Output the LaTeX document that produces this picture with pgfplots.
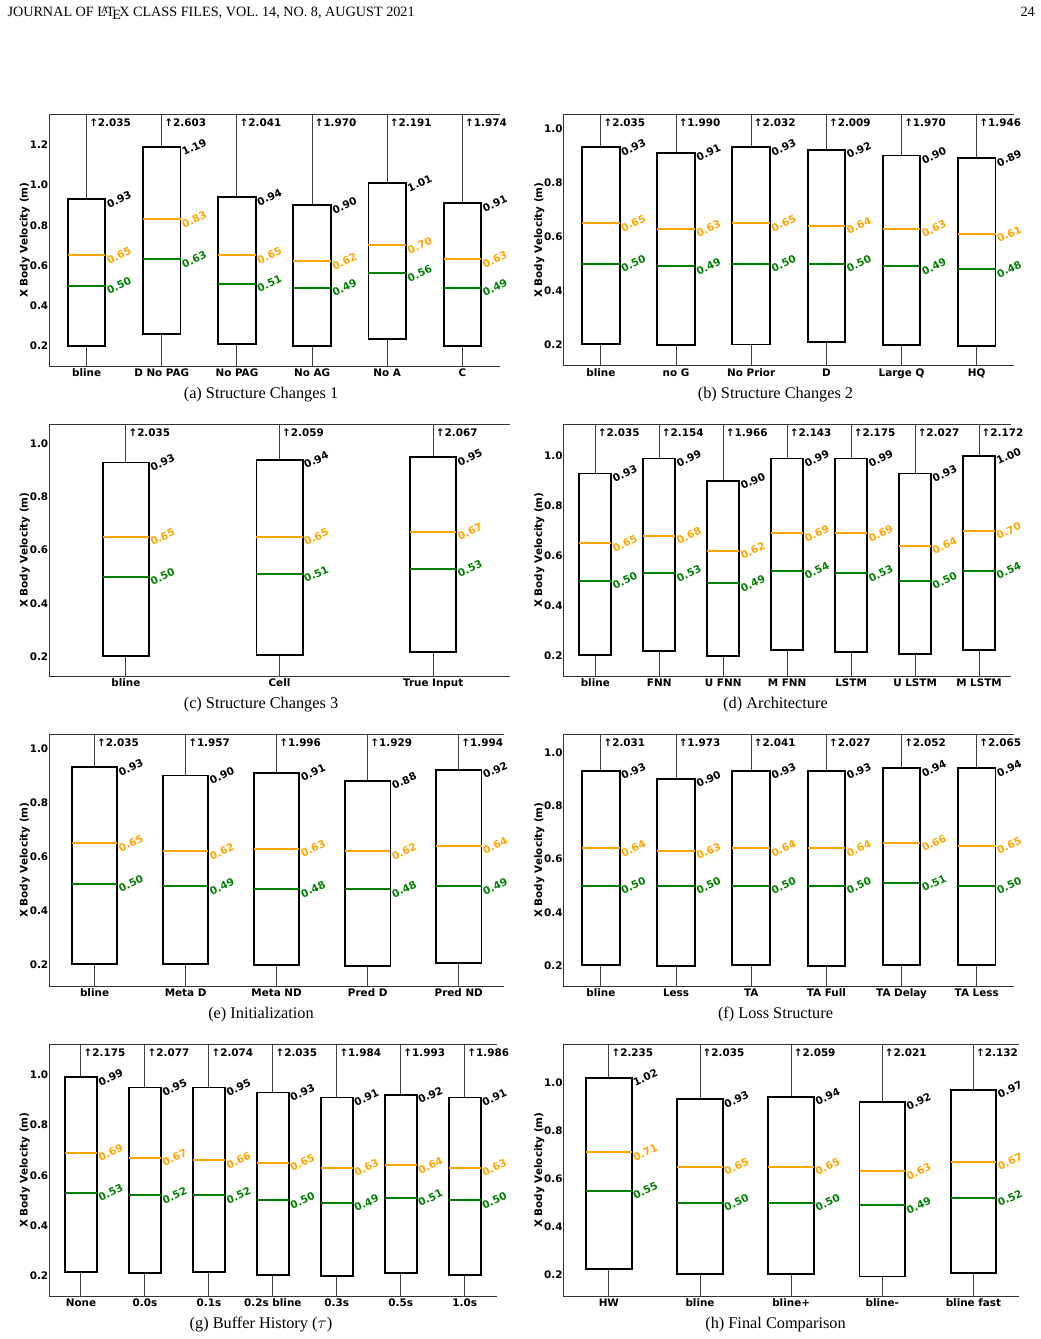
\documentclass[border=0pt]{standalone}
\usepackage{fontspec}
\setmainfont{Liberation Serif}
\newfontfamily\dvs{DejaVu Sans}
\usepackage{pgfplots}
\pgfplotsset{compat=1.18}
\usepgfplotslibrary{statistics}

\definecolor{medc}{HTML}{FFA500}
\definecolor{meanc}{HTML}{008000}

\newcommand\tkf{\dvs\bfseries\fontsize{10.4pt}{12pt}\selectfont}
\newcommand\hdrf{\fontsize{14.2pt}{17pt}\selectfont}
\newcommand\capf{\fontsize{16.3pt}{19pt}\selectfont}

\tikzset{
  vlab/.style={font=\tkf, rotate=25, anchor=center, inner sep=0pt},
  toplab/.style={font=\tkf, anchor=base west, inner sep=0pt, xshift=2.5pt, yshift=-12.4pt},
}

\pgfplotsset{
  boxplot/every median/.style={draw=medc, line width=2pt},
  boxplot/every whisker/.style={draw=black!75, line width=1pt},
  pane/.style={
    scale only axis, anchor=north west, height=251.7pt,
    axis x line*=box, axis y line*=left,
    axis line style={-, draw=black!80, line width=1pt},
    clip mode=individual,
    major tick length=0pt, tick style={draw=none},
    ytick={0.2,0.4,0.6,0.8,1.0,1.2},
    /pgf/number format/assume math mode=true,
    yticklabel style={font=\tkf, inner sep=0.6pt,
      /pgf/number format/fixed, /pgf/number format/fixed zerofill,
      /pgf/number format/precision=1},
    xticklabel style={font=\tkf, inner sep=0pt, yshift=-2.3pt},
    ylabel={X Body Velocity (m)},
    ylabel style={font=\tkf, inner sep=0pt, at={(ticklabel cs:0.5,-1pt)}},
  },
}

% one box: position, lower edge, median, mean, upper edge, maximum
\newcommand\bx[6]{%
  \addplot[black, line width=1.9pt, boxplot prepared={draw direction=y,
      draw position=#1, box extend=\bext, whisker extend=0,
      lower whisker=0, lower quartile=#2, median=#3,
      upper quartile=#5, upper whisker=#6}] coordinates {};
  \addplot[only marks, mark=-, mark size=\ms,
      mark options={draw=meanc, line width=2pt}] coordinates {(#1,#4)};
  \node[vlab, text=black] at (axis cs:{#1+\lx},#5) {#5};
  \node[vlab, text=medc] at (axis cs:{#1+\lx},#3) {#3};
  \node[vlab, text=meanc] at (axis cs:{#1+\lx},#4) {#4};
  \node[toplab] at (axis cs:#1,\ytop) {↑#6};
}

\begin{document}
\begin{tikzpicture}
\path[use as bounding box] (0pt,0pt) rectangle (1041pt,-1339pt);

\node[anchor=base west, font=\hdrf, inner sep=0pt] at (7.3pt,-16.7pt)
  {JOURNAL OF \LaTeX\ CLASS FILES, VOL. 14, NO. 8, AUGUST 2021};
\node[anchor=base east, font=\hdrf, inner sep=0pt] at (1035pt,-16.7pt) {24};

% (a)
\def\bext{0.5}\def\lx{0.432}\def\ms{18.79pt}\def\ytop{1.353}
\begin{axis}[pane, at={(49pt,-114.3pt)}, width=451pt,
  xmin=0.5, xmax=6.5, ymin=0.099, ymax=1.353, xtick={1,...,6},
  xticklabels={bline, D No PAG, No PAG, No AG, No A, C}]
\bx{1}{0.200}{0.65}{0.50}{0.93}{2.035}
\bx{2}{0.260}{0.83}{0.63}{1.19}{2.603}
\bx{3}{0.207}{0.65}{0.51}{0.94}{2.041}
\bx{4}{0.198}{0.62}{0.49}{0.90}{1.970}
\bx{5}{0.232}{0.70}{0.56}{1.01}{2.191}
\bx{6}{0.198}{0.63}{0.49}{0.91}{1.974}
\end{axis}
\node[anchor=base, font=\capf] at (261pt,-398.3pt) {(a) Structure Changes 1};

% (b)
\def\bext{0.5}\def\lx{0.432}\def\ms{18.79pt}\def\ytop{1.052}
\begin{axis}[pane, at={(563.3pt,-114.3pt)}, width=451pt,
  xmin=0.5, xmax=6.5, ymin=0.1225, ymax=1.052, xtick={1,...,6},
  xticklabels={bline, no G, No Prior, D, Large Q, HQ}]
\bx{1}{0.204}{0.65}{0.50}{0.93}{2.035}
\bx{2}{0.200}{0.63}{0.49}{0.91}{1.990}
\bx{3}{0.202}{0.65}{0.50}{0.93}{2.032}
\bx{4}{0.210}{0.64}{0.50}{0.92}{2.009}
\bx{5}{0.199}{0.63}{0.49}{0.90}{1.970}
\bx{6}{0.196}{0.61}{0.48}{0.89}{1.946}
\end{axis}
\node[anchor=base, font=\capf] at (775.5pt,-398.3pt) {(b) Structure Changes 2};

% (c)
\def\bext{0.3}\def\lx{0.239}\def\ms{23.05pt}\def\ytop{1.074}
\begin{axis}[pane, at={(49pt,-424.3pt)}, width=461pt,
  xmin=0.5, xmax=3.5, ymin=0.126, ymax=1.074, xtick={1,2,3},
  xticklabels={bline, Cell, True Input}]
\bx{1}{0.200}{0.65}{0.50}{0.93}{2.035}
\bx{2}{0.204}{0.65}{0.51}{0.94}{2.059}
\bx{3}{0.215}{0.67}{0.53}{0.95}{2.067}
\end{axis}
\node[anchor=base, font=\capf] at (261pt,-708.3pt) {(c) Structure Changes 3};

% (d)
\def\bext{0.5}\def\lx{0.464}\def\ms{15.99pt}\def\ytop{1.127}
\begin{axis}[pane, at={(563.3pt,-424.3pt)}, width=447.7pt,
  xmin=0.5, xmax=7.5, ymin=0.1185, ymax=1.127, xtick={1,...,7},
  xticklabels={bline, FNN, U FNN, M FNN, LSTM, U LSTM, M LSTM}]
\bx{1}{0.203}{0.65}{0.50}{0.93}{2.035}
\bx{2}{0.219}{0.68}{0.53}{0.99}{2.154}
\bx{3}{0.199}{0.62}{0.49}{0.90}{1.966}
\bx{4}{0.221}{0.69}{0.54}{0.99}{2.143}
\bx{5}{0.216}{0.69}{0.53}{0.99}{2.175}
\bx{6}{0.207}{0.64}{0.50}{0.93}{2.027}
\bx{7}{0.223}{0.70}{0.54}{1.00}{2.172}
\end{axis}
\node[anchor=base, font=\capf] at (775.5pt,-708.3pt) {(d) Architecture};

% (e)
\def\bext{0.5}\def\lx{0.400}\def\ms{22.77pt}\def\ytop{1.052}
\begin{axis}[pane, at={(49pt,-734.3pt)}, width=455.3pt,
  xmin=0.5, xmax=5.5, ymin=0.1225, ymax=1.052, xtick={1,...,5},
  xticklabels={bline, Meta D, Meta ND, Pred D, Pred ND}]
\bx{1}{0.204}{0.65}{0.50}{0.93}{2.035}
\bx{2}{0.204}{0.62}{0.49}{0.90}{1.957}
\bx{3}{0.199}{0.63}{0.48}{0.91}{1.996}
\bx{4}{0.195}{0.62}{0.48}{0.88}{1.929}
\bx{5}{0.209}{0.64}{0.49}{0.92}{1.994}
\end{axis}
\node[anchor=base, font=\capf] at (261pt,-1018.3pt) {(e) Initialization};

% (f)
\def\bext{0.5}\def\lx{0.432}\def\ms{18.79pt}\def\ytop{1.0675}
\begin{axis}[pane, at={(563.3pt,-734.3pt)}, width=451pt,
  xmin=0.5, xmax=6.5, ymin=0.124, ymax=1.0675, xtick={1,...,6},
  xticklabels={bline, Less, TA, TA Full, TA Delay, TA Less}]
\bx{1}{0.203}{0.64}{0.50}{0.93}{2.031}
\bx{2}{0.200}{0.63}{0.50}{0.90}{1.973}
\bx{3}{0.203}{0.64}{0.50}{0.93}{2.041}
\bx{4}{0.199}{0.64}{0.50}{0.93}{2.027}
\bx{5}{0.204}{0.66}{0.51}{0.94}{2.052}
\bx{6}{0.204}{0.65}{0.50}{0.94}{2.065}
\end{axis}
\node[anchor=base, font=\capf] at (775.5pt,-1018.3pt) {(f) Loss Structure};

% (g)
\def\bext{0.5}\def\lx{0.464}\def\ms{15.99pt}\def\ytop{1.122}
\begin{axis}[pane, at={(49pt,-1044.3pt)}, width=447.7pt,
  xmin=0.5, xmax=7.5, ymin=0.119, ymax=1.122, xtick={1,...,7},
  xticklabels={None, 0.0s, 0.1s, 0.2s bline, 0.3s, 0.5s, 1.0s}]
\bx{1}{0.215}{0.69}{0.53}{0.99}{2.175}
\bx{2}{0.212}{0.67}{0.52}{0.95}{2.077}
\bx{3}{0.213}{0.66}{0.52}{0.95}{2.074}
\bx{4}{0.203}{0.65}{0.50}{0.93}{2.035}
\bx{5}{0.197}{0.63}{0.49}{0.91}{1.984}
\bx{6}{0.212}{0.64}{0.51}{0.92}{1.993}
\bx{7}{0.203}{0.63}{0.50}{0.91}{1.986}
\end{axis}
\node[anchor=base, font=\capf] at (261pt,-1328.3pt) {(g) Buffer History ($\tau$)};

% (h)
\def\bext{0.5}\def\lx{0.400}\def\ms{22.79pt}\def\ytop{1.158}
\begin{axis}[pane, at={(563.3pt,-1044.3pt)}, width=455.7pt,
  xmin=0.5, xmax=5.5, ymin=0.113, ymax=1.158, xtick={1,...,5},
  xticklabels={HW, bline, bline+, bline-, bline fast}]
\bx{1}{0.226}{0.71}{0.55}{1.02}{2.235}
\bx{2}{0.204}{0.65}{0.50}{0.93}{2.035}
\bx{3}{0.204}{0.65}{0.50}{0.94}{2.059}
\bx{4}{0.194}{0.63}{0.49}{0.92}{2.021}
\bx{5}{0.210}{0.67}{0.52}{0.97}{2.132}
\end{axis}
\node[anchor=base, font=\capf] at (775.5pt,-1328.3pt) {(h) Final Comparison};
\end{tikzpicture}
\end{document}
